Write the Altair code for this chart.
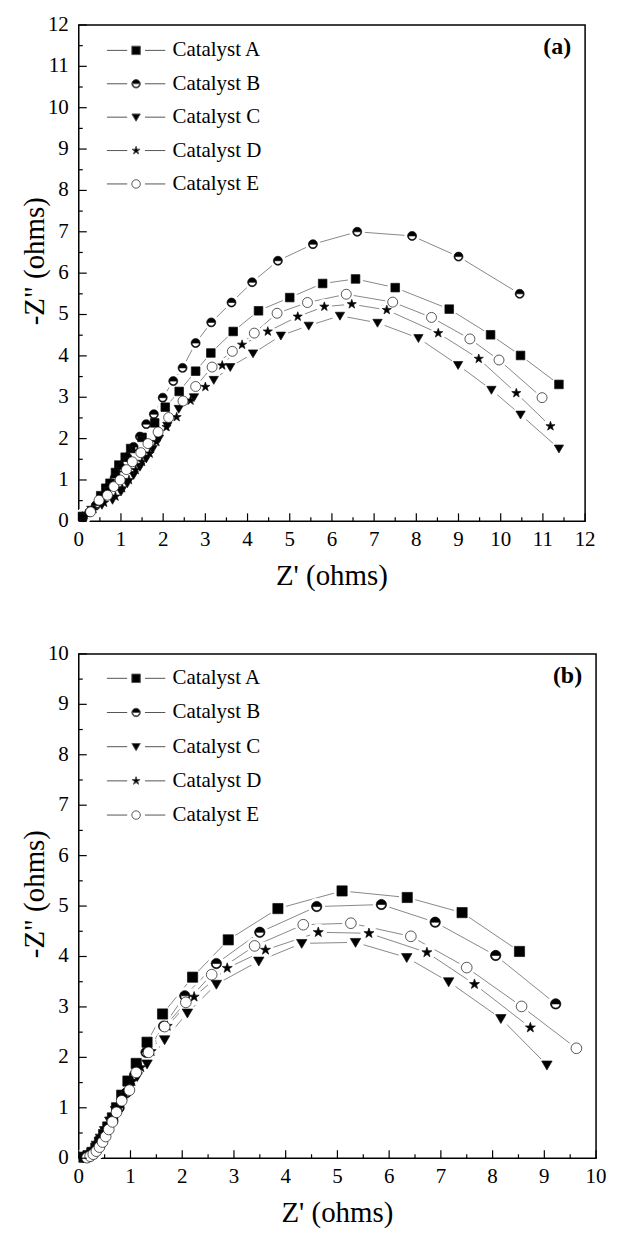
import altair as alt
import pandas as pd

names = ["Catalyst A", "Catalyst B", "Catalyst C", "Catalyst D", "Catalyst E"]

# ---------------- Panel (a) ----------------
a_A_x = [0.09, 0.52, 0.64, 0.74, 0.87, 0.95, 1.10, 1.23, 1.50, 1.80, 2.05, 2.38, 2.77, 3.13, 3.66, 4.26, 5.00, 5.78, 6.56, 7.50, 8.78, 9.76, 10.47, 11.38]
a_A_y = [0.12, 0.62, 0.80, 0.92, 1.18, 1.36, 1.55, 1.76, 2.03, 2.38, 2.76, 3.14, 3.63, 4.07, 4.59, 5.09, 5.41, 5.75, 5.86, 5.65, 5.13, 4.51, 4.01, 3.31]

a_B_x = [0.10, 0.25, 0.40, 0.55, 0.70, 0.85, 1.00, 1.15, 1.30, 1.45, 1.60, 1.78, 1.99, 2.24, 2.46, 2.77, 3.14, 3.62, 4.11, 4.72, 5.55, 6.60, 7.90, 9.00, 10.45]
a_B_y = [0.10, 0.22, 0.38, 0.58, 0.82, 1.05, 1.30, 1.55, 1.80, 2.05, 2.35, 2.59, 2.99, 3.39, 3.71, 4.31, 4.81, 5.29, 5.78, 6.30, 6.70, 7.00, 6.90, 6.40, 5.50]

a_C_x = [0.10, 0.30, 0.55, 0.80, 1.00, 1.15, 1.30, 1.45, 1.60, 1.75, 1.90, 2.10, 2.37, 2.73, 3.20, 3.59, 4.13, 4.79, 5.45, 6.19, 7.08, 8.05, 8.99, 9.78, 10.47, 11.38]
a_C_y = [0.10, 0.28, 0.40, 0.52, 0.72, 0.92, 1.12, 1.32, 1.52, 1.75, 2.00, 2.31, 2.72, 3.00, 3.42, 3.73, 4.06, 4.49, 4.73, 4.97, 4.80, 4.43, 3.78, 3.18, 2.58, 1.76]

a_D_x = [0.09, 0.35, 0.60, 0.87, 1.03, 1.19, 1.35, 1.50, 1.68, 1.84, 2.08, 2.32, 2.65, 3.00, 3.40, 3.87, 4.48, 5.19, 5.82, 6.47, 7.30, 8.52, 9.48, 10.37, 11.18]
a_D_y = [0.12, 0.30, 0.45, 0.60, 0.80, 1.00, 1.24, 1.44, 1.64, 1.92, 2.28, 2.52, 2.92, 3.25, 3.77, 4.27, 4.59, 4.95, 5.19, 5.25, 5.11, 4.55, 3.93, 3.10, 2.30]

a_E_x = [0.28, 0.48, 0.68, 0.83, 0.98, 1.13, 1.27, 1.47, 1.64, 1.88, 2.13, 2.47, 2.77, 3.16, 3.64, 4.16, 4.70, 5.42, 6.34, 7.44, 8.36, 9.27, 9.96, 10.98]
a_E_y = [0.23, 0.51, 0.63, 0.84, 1.00, 1.25, 1.44, 1.66, 1.88, 2.16, 2.51, 2.91, 3.26, 3.73, 4.11, 4.55, 5.03, 5.29, 5.49, 5.30, 4.93, 4.41, 3.90, 2.99]

# ---------------- Panel (b) ----------------
b_A_x = [0.10, 0.18, 0.25, 0.33, 0.40, 0.48, 0.56, 0.65, 0.73, 0.83, 0.95, 1.11, 1.32, 1.62, 2.20, 2.89, 3.85, 5.09, 6.35, 7.41, 8.52]
b_A_y = [0.02, 0.05, 0.10, 0.20, 0.32, 0.47, 0.62, 0.80, 1.00, 1.25, 1.53, 1.88, 2.30, 2.86, 3.59, 4.33, 4.95, 5.30, 5.17, 4.87, 4.10]

b_B_x = [0.10, 0.18, 0.26, 0.35, 0.45, 0.55, 0.66, 0.78, 0.92, 1.08, 1.30, 1.64, 2.05, 2.66, 3.50, 4.60, 5.85, 6.89, 8.06, 9.22]
b_B_y = [0.02, 0.05, 0.12, 0.22, 0.38, 0.55, 0.75, 1.00, 1.30, 1.65, 2.10, 2.62, 3.22, 3.86, 4.48, 4.99, 5.03, 4.68, 4.02, 3.06]

b_C_x = [0.10, 0.18, 0.26, 0.34, 0.42, 0.50, 0.60, 0.71, 0.84, 0.98, 1.13, 1.32, 1.66, 2.10, 2.66, 3.48, 4.31, 5.35, 6.34, 7.15, 8.16, 9.05]
b_C_y = [0.02, 0.06, 0.14, 0.26, 0.40, 0.55, 0.74, 0.95, 1.18, 1.40, 1.62, 1.87, 2.35, 2.88, 3.45, 3.91, 4.26, 4.28, 3.98, 3.50, 2.77, 1.85]

b_D_x = [0.10, 0.18, 0.26, 0.34, 0.42, 0.51, 0.61, 0.73, 0.87, 1.03, 1.20, 1.40, 1.71, 2.23, 2.87, 3.61, 4.63, 5.61, 6.73, 7.65, 8.73]
b_D_y = [0.02, 0.06, 0.14, 0.26, 0.40, 0.57, 0.77, 1.00, 1.26, 1.52, 1.80, 2.12, 2.62, 3.20, 3.77, 4.13, 4.48, 4.46, 4.08, 3.45, 2.59]

b_E_x = [0.16, 0.22, 0.28, 0.34, 0.40, 0.46, 0.52, 0.58, 0.65, 0.73, 0.83, 0.98, 1.11, 1.35, 1.66, 2.07, 2.57, 3.40, 4.34, 5.26, 6.42, 7.50, 8.56, 9.62]
b_E_y = [0.01, 0.04, 0.08, 0.14, 0.22, 0.32, 0.43, 0.57, 0.72, 0.91, 1.14, 1.35, 1.70, 2.10, 2.61, 3.09, 3.64, 4.21, 4.63, 4.66, 4.40, 3.78, 3.01, 2.18]

# axis tick values and titles
a_ticks = list(range(0, 13))
a_minor = [v + 0.5 for v in range(0, 12)]
b_ticks = list(range(0, 11))
b_minor = [v + 0.5 for v in range(0, 10)]
x_title = "Z' (ohms)"
y_title = '-Z" (ohms)'

FONT = "Liberation Serif"

SQUARE = "M-1,-1L1,-1L1,1L-1,1Z"
HALF = "M-1,0A1,1 0 0,1 1,0A1,1 0 0,1 -1,0L-0.8,0A0.8,0.8 0 0,0 0.8,0Z"
TRI = "M-1,-0.75L1,-0.75L0,0.95Z"
STAR = ("M0,-1L0.235,-0.324L0.951,-0.309L0.38,0.124L0.588,0.809L0,0.4"
        "L-0.588,0.809L-0.38,0.124L-0.951,-0.309L-0.235,-0.324Z")
CIRCLE = "M-1,0A1,1 0 1,1 1,0A1,1 0 1,1 -1,0Z"
marker_paths = [SQUARE, HALF, TRI, STAR, CIRCLE]
SEG = "M-6.9,0L-2.1,0M2.1,0L6.9,0"
legend_paths = [SEG + p for p in marker_paths]
fills = ["black", "black", "black", "black", "white"]
legend_strokes = ["#555555"] * 5


def build_df(xs_list, ys_list):
    rows = []
    for name, xs, ys in zip(names, xs_list, ys_list):
        for i, (x, y) in enumerate(zip(xs, ys)):
            rows.append({"series": name, "i": i, "zr": x, "zi": y})
    return pd.DataFrame(rows)


df_a = build_df([a_A_x, a_B_x, a_C_x, a_D_x, a_E_x], [a_A_y, a_B_y, a_C_y, a_D_y, a_E_y])
df_b = build_df([b_A_x, b_B_x, b_C_x, b_D_x, b_E_x], [b_A_y, b_B_y, b_C_y, b_D_y, b_E_y])


def panel(df, xmax, ymax, ticks_x, minor_x, ticks_y, minor_y, W, H, sizes, halo, lab, legX, legY, rowPad):
    xs = alt.Scale(domain=[0, xmax], nice=False, zero=False)
    ys = alt.Scale(domain=[0, ymax], nice=False, zero=False)
    X = alt.X("zr:Q", scale=xs, axis=None)
    Y = alt.Y("zi:Q", scale=ys, axis=None)

    base = alt.Chart(df)
    lines = base.mark_line(color="#7a7a7a", strokeWidth=0.9).encode(
        x=X, y=Y, detail="series:N", order="i:Q")
    halo_l = base.mark_point(shape="circle", filled=True, fill="white", opacity=1,
                             size=halo, strokeWidth=0).encode(x=X, y=Y)
    pts = base.mark_point(filled=True, opacity=1, stroke="#111", strokeWidth=0.7).encode(
        x=X, y=Y,
        shape=alt.Shape("series:N", scale=alt.Scale(domain=names, range=marker_paths), legend=None),
        fill=alt.Fill("series:N", scale=alt.Scale(domain=names, range=fills), legend=None),
        size=alt.Size("series:O", scale=alt.Scale(domain=names, range=sizes), legend=None),
    )
    leg_def = alt.Legend(title=None, orient="none", legendX=legX, legendY=legY, padding=0,
                         labelFont=FONT, labelFontSize=21, labelColor="black", labelOffset=26,
                         symbolSize=72, rowPadding=rowPad, symbolStrokeColor="#555555",
                         symbolStrokeWidth=1, symbolOpacity=1, labelLimit=300)
    leg = base.transform_filter("false").mark_point(
        filled=True, opacity=1, strokeWidth=1).encode(
        x=X, y=Y,
        shape=alt.Shape("series:N", scale=alt.Scale(domain=names, range=legend_paths), legend=leg_def),
        fill=alt.Fill("series:N", scale=alt.Scale(domain=names, range=fills), legend=leg_def),
        stroke=alt.Stroke("series:N", scale=alt.Scale(domain=names, range=legend_strokes), legend=leg_def),
    )

    # inward tick marks
    def xtick(vals, L):
        return alt.Chart(pd.DataFrame({"zr": vals})).mark_rule(
            color="black", strokeWidth=1.2, opacity=1).encode(
            x=X, y=alt.value(H - L), y2=alt.value(H))

    def ytick(vals, L):
        return alt.Chart(pd.DataFrame({"zi": vals})).mark_rule(
            color="black", strokeWidth=1.2, opacity=1).encode(
            y=Y, x=alt.value(0), x2=alt.value(L))

    # tick labels, placed through the scales
    xlab = alt.Chart(pd.DataFrame({"zr": ticks_x})).mark_text(
        font=FONT, fontSize=21, align="center", baseline="top", color="black").encode(
        x=X, y=alt.value(H + 8), text=alt.Text("zr:Q", format="d"))
    ylab = alt.Chart(pd.DataFrame({"zi": ticks_y})).mark_text(
        font=FONT, fontSize=21, align="right", baseline="middle", color="black").encode(
        y=Y, x=alt.value(-10), text=alt.Text("zi:Q", format="d"))

    # axis titles
    xtit = alt.Chart(pd.DataFrame({"t": [x_title]})).mark_text(
        font=FONT, fontSize=29, align="center", baseline="middle", color="black").encode(
        x=alt.value(W / 2), y=alt.value(H + 55), text="t:N")
    ytit = alt.Chart(pd.DataFrame({"t": [y_title]})).mark_text(
        font=FONT, fontSize=29, align="center", baseline="middle", angle=270, color="black").encode(
        x=alt.value(-44), y=alt.value(H / 2 - 12), text="t:N")

    txt = alt.Chart(pd.DataFrame({"lab": [lab]})).mark_text(
        font=FONT, fontSize=24, fontWeight="bold", align="right", baseline="top", color="black"
    ).encode(text="lab:N", x=alt.value(W - 14), y=alt.value(10))

    return alt.layer(
        lines, halo_l, pts, leg,
        xtick(ticks_x, 8), xtick(minor_x, 4), ytick(ticks_y, 8), ytick(minor_y, 4),
        xlab, ylab, xtit, ytit, txt
    ).resolve_scale(shape="independent", fill="independent", size="independent",
                    stroke="independent").properties(width=W, height=H)


pa = panel(df_a, 12, 12, a_ticks, a_minor, a_ticks, a_minor, 508, 498,
           [75, 100, 150, 150, 100], 240, "(a)", 47, 15, 11.5)
pb = panel(df_b, 10, 10, b_ticks, b_minor, b_ticks, b_minor, 519, 506,
           [105, 115, 175, 170, 125], 290, "(b)", 47, 14, 12.3)

chart = alt.vconcat(pa, pb, spacing=50).resolve_scale(
    shape="independent", fill="independent", size="independent", stroke="independent"
).properties(
    padding={"left": 12, "top": 3, "right": 5, "bottom": 5},
).configure(
    font=FONT, background="white",
).configure_view(
    stroke="black", strokeWidth=1.5
)

chart.save("out.html", embed_options={"renderer": "svg", "actions": False})
